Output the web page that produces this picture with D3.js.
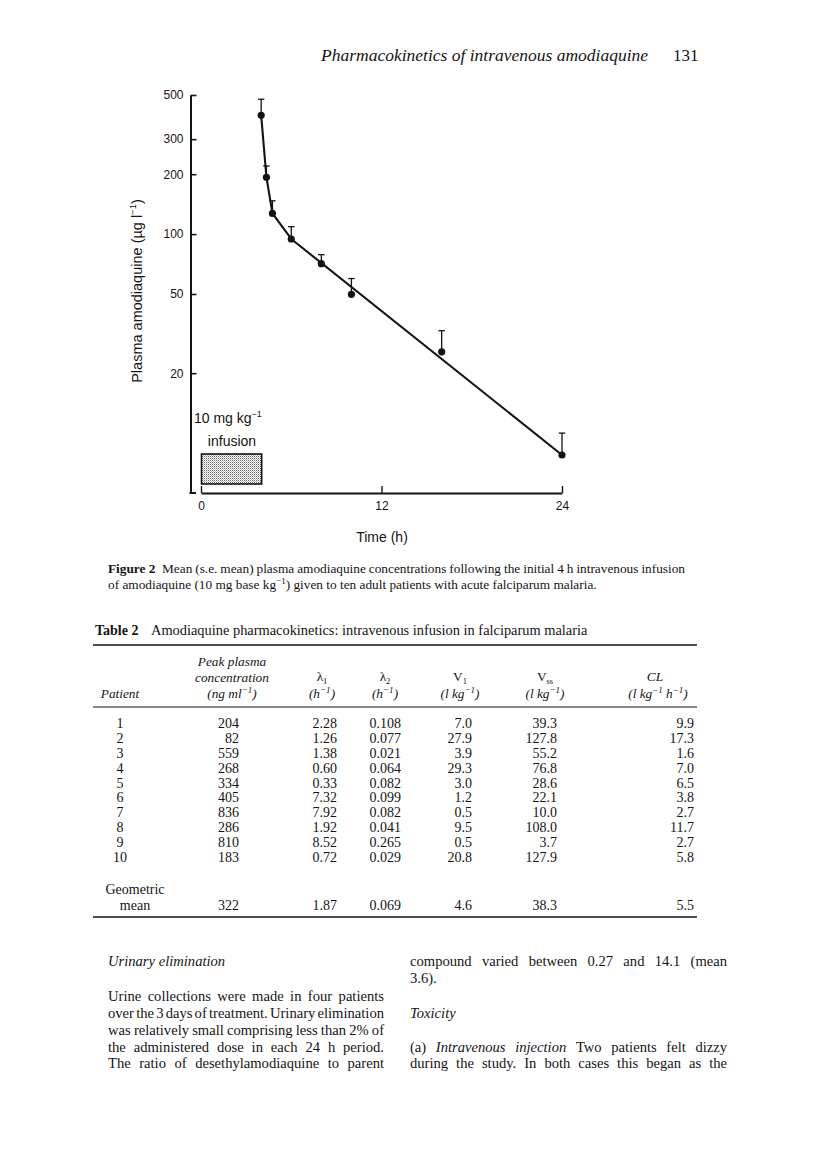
<!DOCTYPE html>
<html>
<head>
<meta charset="utf-8">
<script src="https://cdn.jsdelivr.net/npm/d3@7"></script>
<style>
  body { margin: 0; background: #fff; }
  svg { display: block; }
</style>
</head>
<body>
<svg id="page" width="816" height="1170"></svg>
<script>
// ---- figure data ----
var sampleTimes = [4, 4.35, 4.75, 6, 8, 10, 16, 24];
var meanConc    = [395, 193, 127, 94.5, 71, 49.8, 25.6, 7.76];
var seUpper     = [476, 220, 147, 109, 78.8, 59.8, 32.7, 10.0];
// fitted curve drawn through the points
var fitTimes = [4, 4.35, 4.75, 6, 24];
var fitConc  = [395, 193, 127, 94.5, 7.76];
var yTicks = [20, 50, 100, 200, 300, 500];
var xTicks = [0, 12, 24];
var infusionHours = [0, 4];

// ---- table 2 ----
var patientIds = ["1", "2", "3", "4", "5", "6", "7", "8", "9", "10"];
var peakPlasma = ["204", "82", "559", "268", "334", "405", "836", "286", "810", "183"];
var lambda1    = ["2.28", "1.26", "1.38", "0.60", "0.33", "7.32", "7.92", "1.92", "8.52", "0.72"];
var lambda2    = ["0.108", "0.077", "0.021", "0.064", "0.082", "0.099", "0.082", "0.041", "0.265", "0.029"];
var v1         = ["7.0", "27.9", "3.9", "29.3", "3.0", "1.2", "0.5", "9.5", "0.5", "20.8"];
var vss        = ["39.3", "127.8", "55.2", "76.8", "28.6", "22.1", "10.0", "108.0", "3.7", "127.9"];
var cl         = ["9.9", "17.3", "1.6", "7.0", "6.5", "3.8", "2.7", "11.7", "2.7", "5.8"];
var geoMean    = ["322", "1.87", "0.069", "4.6", "38.3", "5.5"];

var ink = "#141414";
var serif = "'Liberation Serif', 'Times New Roman', serif";
var sans = "'Liberation Sans', Arial, sans-serif";

var svg = d3.select("#page");
svg.append("rect").attr("width", 816).attr("height", 1170).attr("fill", "#fff");

// stipple for the infusion box
var defs = svg.append("defs");
var pat = defs.append("pattern").attr("id", "stipple")
    .attr("width", 2).attr("height", 2).attr("patternUnits", "userSpaceOnUse");
pat.append("rect").attr("width", 2).attr("height", 2).attr("fill", "#fff");
pat.append("rect").attr("width", 1).attr("height", 1).attr("fill", "#666");
pat.append("rect").attr("x", 1).attr("y", 1).attr("width", 1).attr("height", 1).attr("fill", "#bbb");

// ---- running head ----
svg.append("text").attr("x", 321).attr("y", 61)
    .attr("font-family", serif).attr("font-style", "italic").attr("font-size", 17.5)
    .attr("fill", ink).text("Pharmacokinetics of intravenous amodiaquine");
svg.append("text").attr("x", 673).attr("y", 61)
    .attr("font-family", serif).attr("font-size", 17)
    .attr("fill", ink).text("131");

// ---- chart ----
var x = d3.scaleLinear().domain([0, 24]).range([201, 562]);
var y = d3.scaleLog().domain([5, 500]).range([493, 95]);

var chart = svg.append("g").attr("font-family", sans);

var yAxis = d3.axisLeft(y).tickValues(yTicks).tickFormat(d3.format("d"))
    .tickSizeInner(-6).tickSizeOuter(0).tickPadding(7);
var yg = chart.append("g").attr("transform", "translate(190.5,0)").call(yAxis);
yg.select(".domain").attr("stroke", ink).attr("stroke-width", 2);
yg.selectAll(".tick line").attr("stroke", ink).attr("stroke-width", 1.6);
yg.selectAll(".tick text").attr("font-family", sans).attr("font-size", 12).attr("fill", ink);
// small foot at the bottom of the y axis
chart.append("line").attr("x1", 189.5).attr("x2", 196).attr("y1", 493).attr("y2", 493)
    .attr("stroke", ink).attr("stroke-width", 2);

var xAxis = d3.axisBottom(x).tickValues(xTicks).tickFormat(d3.format("d"))
    .tickSizeInner(-7).tickSizeOuter(0).tickPadding(8.5);
var xg = chart.append("g").attr("transform", "translate(0,493)").call(xAxis);
xg.select(".domain").attr("stroke", ink).attr("stroke-width", 2);
xg.selectAll(".tick line").attr("stroke", ink).attr("stroke-width", 1.4);
xg.selectAll(".tick text").attr("font-family", sans).attr("font-size", 12).attr("fill", ink);

// axis titles
var yTitle = chart.append("text").attr("transform", "translate(142,291) rotate(-90)")
    .attr("text-anchor", "middle").attr("font-size", 14.5).attr("fill", ink);
yTitle.append("tspan").text("Plasma amodiaquine (µg l");
yTitle.append("tspan").attr("font-size", 9.5).attr("dy", -6).text("−1");
yTitle.append("tspan").attr("dy", 6).text(")");

chart.append("text").attr("x", 382).attr("y", 542)
    .attr("text-anchor", "middle").attr("font-size", 14).attr("fill", ink)
    .text("Time (h)");

// infusion box
chart.append("rect")
    .attr("x", x(infusionHours[0]) + 0.5).attr("y", 454)
    .attr("width", x(infusionHours[1]) - x(infusionHours[0])).attr("height", 30)
    .attr("fill", "url(#stipple)").attr("stroke", ink).attr("stroke-width", 1.6);
var dose = chart.append("text").attr("x", 194).attr("y", 423)
    .attr("font-size", 14).attr("fill", ink);
dose.append("tspan").text("10 mg kg");
dose.append("tspan").attr("font-size", 9).attr("dy", -6).text("−1");
chart.append("text").attr("x", 232).attr("y", 446).attr("text-anchor", "middle")
    .attr("font-size", 14).attr("fill", ink).text("infusion");

// fitted line
var line = d3.line().x(function(d) { return x(d[0]); }).y(function(d) { return y(d[1]); });
chart.append("path").datum(d3.zip(fitTimes, fitConc))
    .attr("d", line).attr("fill", "none")
    .attr("stroke", ink).attr("stroke-width", 2.1).attr("stroke-linejoin", "round");

// error bars (upper s.e. only)
var pts = sampleTimes.map(function(t, i) { return { t: t, v: meanConc[i], hi: seUpper[i] }; });
var eb = chart.append("g").attr("stroke", ink).attr("stroke-width", 1.3);
eb.selectAll(".bar").data(pts).enter().append("line")
    .attr("x1", function(d) { return x(d.t); }).attr("x2", function(d) { return x(d.t); })
    .attr("y1", function(d) { return y(d.v); }).attr("y2", function(d) { return y(d.hi); });
eb.selectAll(".cap").data(pts).enter().append("line")
    .attr("x1", function(d) { return x(d.t) - 3.2; }).attr("x2", function(d) { return x(d.t) + 3.2; })
    .attr("y1", function(d) { return y(d.hi); }).attr("y2", function(d) { return y(d.hi); });

chart.append("g").selectAll("circle").data(pts).enter().append("circle")
    .attr("cx", function(d) { return x(d.t); }).attr("cy", function(d) { return y(d.v); })
    .attr("r", 3.6).attr("fill", ink);

// ---- text helpers ----
// words starting with "_" are italic, "*" bold
function setLine(g, words, x0, x1, yy, size, justify) {
  var nodes = words.map(function(w) {
    var c = w.charAt(0);
    var t = g.append("text").attr("y", yy).attr("font-family", serif)
        .attr("font-size", size).attr("fill", ink);
    if (c === "_") { t.attr("font-style", "italic"); w = w.slice(1); }
    else if (c === "*") { t.attr("font-weight", "bold"); w = w.slice(1); }
    addSup(t, w, size);
    return t;
  });
  var widths = nodes.map(function(n) { return n.node().getComputedTextLength(); });
  var gap = justify && words.length > 1 ?
      (x1 - x0 - d3.sum(widths)) / (words.length - 1) : size * 0.25;
  var cx = x0;
  nodes.forEach(function(n, i) { n.attr("x", cx); cx += widths[i] + gap; });
}
// "^" marks a superscript part, e.g. "kg^−1)"
function addSup(t, w, size) {
  var parts = w.split("^");
  t.append("tspan").text(parts[0]);
  if (parts.length > 1) {
    var m = parts[1].match(/^([−\-0-9]+)(.*)$/);
    t.append("tspan").attr("font-size", size * 0.68).attr("dy", -size * 0.38).text(m[1]);
    if (m[2]) t.append("tspan").attr("dy", size * 0.38).text(m[2]);
  }
}
function words(s) { return s.split(" "); }

var body = svg.append("g");

// ---- figure caption ----
body.append("text").attr("x", 108).attr("y", 573).attr("font-family", serif)
    .attr("font-weight", "bold").attr("font-size", 13.3).attr("fill", ink).text("Figure 2");
setLine(body, words("Mean (s.e. mean) plasma amodiaquine concentrations following the initial 4 h intravenous infusion"),
    162, 685, 573, 13.3, true);
setLine(body, words("of amodiaquine (10 mg base kg^−1) given to ten adult patients with acute falciparum malaria."),
    108, 600, 589, 13.3, false);

// ---- table ----
body.append("text").attr("x", 95).attr("y", 635).attr("font-family", serif)
    .attr("font-weight", "bold").attr("font-size", 14).attr("fill", ink).text("Table 2");
setLine(body, words("Amodiaquine pharmacokinetics: intravenous infusion in falciparum malaria"),
    151, 587, 635, 14.4, false);

var rules = [[645, 1.6], [707, 1.1], [917, 1.6]];
body.selectAll(".rule").data(rules).enter().append("line")
    .attr("x1", 93).attr("x2", 697)
    .attr("y1", function(d) { return d[0]; }).attr("y2", function(d) { return d[0]; })
    .attr("stroke", ink).attr("stroke-width", function(d) { return d[1]; });

var tbl = body.append("g").attr("font-family", serif).attr("font-size", 14).attr("fill", ink);
var hs = 13.3;

function headText(xx, yy, italic) {
  var t = tbl.append("text").attr("x", xx).attr("y", yy).attr("text-anchor", "middle")
      .attr("font-size", hs);
  if (italic) t.attr("font-style", "italic");
  return t;
}
function subHead(xx, yy, main, sub) {
  var t = headText(xx, yy, false);
  t.append("tspan").text(main);
  t.append("tspan").attr("font-size", 8.5).attr("dy", 2.5).text(sub);
  return t;
}
headText(120, 698, true).text("Patient");
headText(232, 666, true).text("Peak plasma");
headText(232, 682, true).text("concentration");
addSup(headText(232, 698, true), "(ng ml^−1)", hs);

subHead(322, 681, "λ", "1");
addSup(headText(322, 698, true), "(h^−1)", hs);
subHead(385, 681, "λ", "2");
addSup(headText(385, 698, true), "(h^−1)", hs);
subHead(460, 681, "V", "1");
addSup(headText(460, 698, true), "(l kg^−1)", hs);
subHead(545, 681, "V", "ss");
addSup(headText(545, 698, true), "(l kg^−1)", hs);
headText(655, 681, true).text("CL");
var hcl = headText(658, 698, true);
hcl.append("tspan").text("(l kg");
hcl.append("tspan").attr("font-size", 9).attr("dy", -5).text("−1");
hcl.append("tspan").attr("dy", 5).text(" h");
hcl.append("tspan").attr("font-size", 9).attr("dy", -5).text("−1");
hcl.append("tspan").attr("dy", 5).text(")");

var rowY = d3.scaleLinear().domain([0, 9]).range([728, 862]);
var colRight = [239, 337, 401, 472, 557, 694];
var columns = [peakPlasma, lambda1, lambda2, v1, vss, cl];

tbl.append("g").selectAll("text").data(patientIds).enter().append("text")
    .attr("x", 120).attr("y", function(d, i) { return rowY(i); })
    .attr("text-anchor", "middle").text(function(d) { return d; });
columns.forEach(function(col, c) {
  tbl.append("g").selectAll("text").data(col).enter().append("text")
      .attr("x", colRight[c]).attr("y", function(d, i) { return rowY(i); })
      .attr("text-anchor", "end").text(function(d) { return d; });
});
tbl.append("text").attr("x", 135).attr("y", 894).attr("text-anchor", "middle").text("Geometric");
tbl.append("text").attr("x", 135).attr("y", 910).attr("text-anchor", "middle").text("mean");
tbl.append("g").selectAll("text").data(geoMean).enter().append("text")
    .attr("x", function(d, i) { return colRight[i]; }).attr("y", 910)
    .attr("text-anchor", "end").text(function(d) { return d; });

// ---- body text, two columns ----
var fs = 14.6;
setLine(body, ["_Urinary", "_elimination"], 108, 384, 966, fs, false);
var leftLines = [
  "Urine collections were made in four patients",
  "over the 3 days of treatment. Urinary elimination",
  "was relatively small comprising less than 2% of",
  "the administered dose in each 24 h period.",
  "The ratio of desethylamodiaquine to parent"
];
var leftY = [1001, 1018, 1035, 1052, 1068];
leftLines.forEach(function(s, i) { setLine(body, words(s), 108, 384, leftY[i], fs, true); });

setLine(body, words("compound varied between 0.27 and 14.1 (mean"), 410, 727, 966, fs, true);
setLine(body, words("3.6)."), 410, 727, 983, fs, false);
setLine(body, ["_Toxicity"], 410, 727, 1018, fs, false);
setLine(body, ["(a)", "_Intravenous", "_injection", "Two", "patients", "felt", "dizzy"], 410, 727, 1052, fs, true);
setLine(body, words("during the study. In both cases this began as the"), 410, 727, 1068, fs, true);
</script>
</body>
</html>
